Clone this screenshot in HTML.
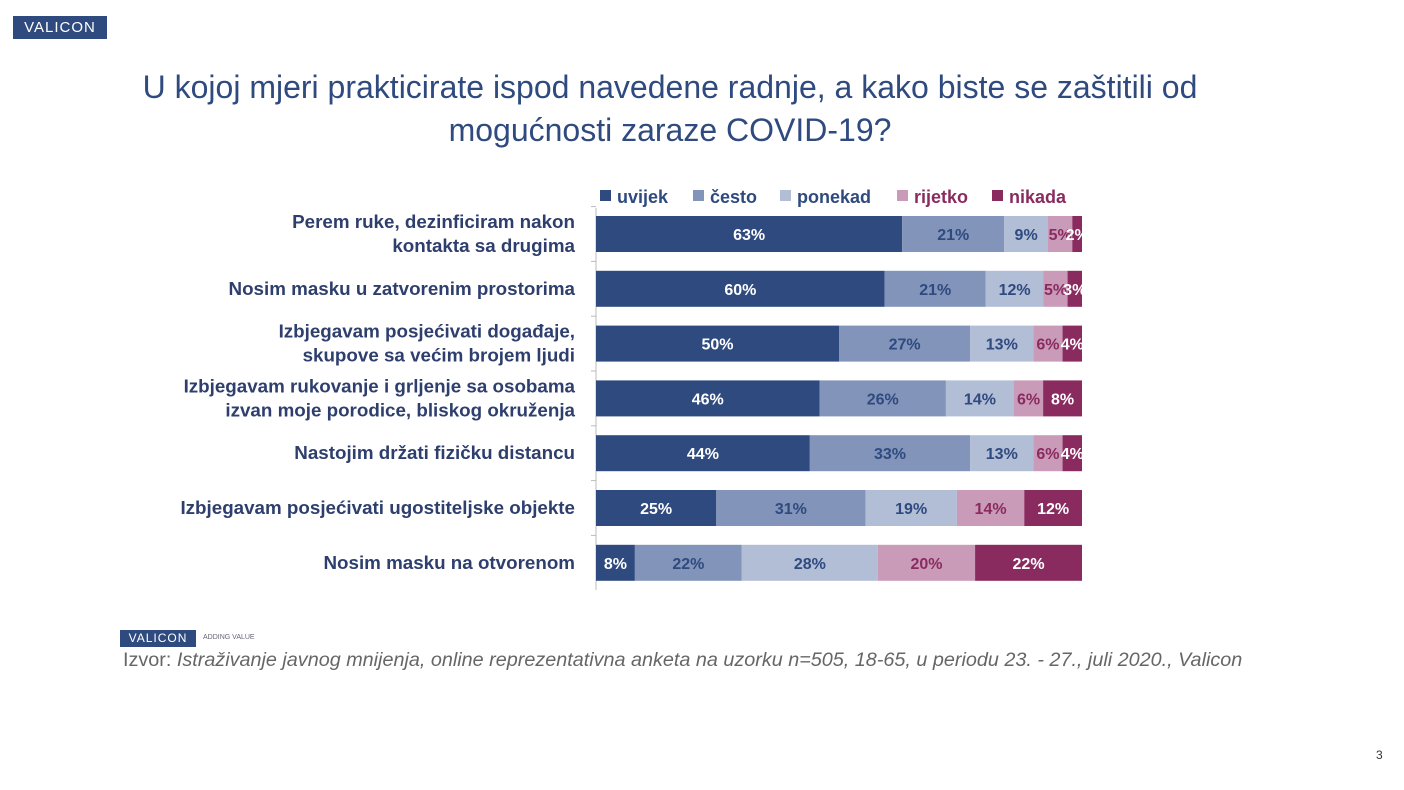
<!DOCTYPE html>
<html><head><meta charset="utf-8"><style>
body{margin:0;width:1404px;height:790px;background:#fff;font-family:"Liberation Sans",sans-serif;position:relative;overflow:hidden}
.logo{position:absolute;background:#2e4a7f;color:#fff;text-align:center;letter-spacing:1px}
</style></head><body>
<div class="logo" style="left:13px;top:16px;width:94px;height:23px;font-size:15px;line-height:23px">VALICON</div>
<div style="position:absolute;left:70px;top:66px;width:1200px;text-align:center;color:#2e4a7f;font-size:32px;line-height:43px;white-space:nowrap">U kojoj mjeri prakticirate ispod navedene radnje, a kako biste se zaštitili od<br>mogućnosti zaraze COVID-19?</div>
<svg id="chart" width="1404" height="620" style="position:absolute;left:0;top:0" font-family="Liberation Sans, sans-serif"></svg>
<div class="logo" style="left:120px;top:630px;width:76px;height:17px;font-size:12px;line-height:17px">VALICON</div>
<div style="position:absolute;left:203px;top:634px;font-size:7px;color:#667">ADDING VALUE</div>
<div style="position:absolute;left:123px;top:649px;font-size:19.8px;color:#666;white-space:nowrap">Izvor: <i>Istraživanje javnog mnijenja, online reprezentativna anketa na uzorku n=505, 18-65, u periodu 23. - 27., juli 2020., Valicon</i></div>
<div style="position:absolute;left:1376px;top:748px;font-size:12px;color:#333">3</div>
<script>
const categories=[["Perem ruke, dezinficiram nakon","kontakta sa drugima"],["Nosim masku u zatvorenim prostorima"],["Izbjegavam posjećivati događaje,","skupove sa većim brojem ljudi"],["Izbjegavam rukovanje i grljenje sa osobama","izvan moje porodice, bliskog okruženja"],["Nastojim držati fizičku distancu"],["Izbjegavam posjećivati ugostiteljske objekte"],["Nosim masku na otvorenom"]];
const seriesNames=["uvijek","često","ponekad","rijetko","nikada"];
const uvijek=[63,60,50,46,44,25,8];
const cesto=[21,21,27,26,33,31,22];
const ponekad=[9,12,13,14,13,19,28];
const rijetko=[5,5,6,6,6,14,20];
const nikada=[2,3,4,8,4,12,22];
const series=[uvijek,cesto,ponekad,rijetko,nikada];
const colors=["#2e4a7f","#8294b9","#b2bdd6","#c99bb9","#8a2b5f"];
const textColors=["#fff","#2e4a7f","#2e4a7f","#8a2b5f","#fff"];
const NS="http://www.w3.org/2000/svg";
const svg=document.getElementById('chart');
const x0=596,x1=1082,top0=216,step=54.8,bh=36;
const yRow=i=>top0+i*step;
function mk(t,a){const e=document.createElementNS(NS,t);for(const k in a)e.setAttribute(k,a[k]);svg.appendChild(e);return e;}
const ax=mk('line',{x1:x0,x2:x0,y1:208,y2:590,stroke:'#bbb'});


categories.forEach((c,i)=>{
  let acc=0;
  const total=series.reduce((s,a)=>s+a[i],0);
  const xs=v=>v/total*(x1-x0);
  series.forEach((s,j)=>{
    const v=s[i];const x=x0+xs(acc);const w=xs(v);
    const r=mk('rect',{x:x,y:yRow(i),width:w,height:bh,fill:colors[j]});
    
    
    const t=mk('text',{x:x+w/2,y:yRow(i)+bh/2+6,'text-anchor':'middle','font-size':16,'font-weight':'bold',fill:textColors[j]});
    t.textContent=v+'%';
    
    
    acc+=v;
  });
  const n=c.length;
  c.forEach((line,k)=>{
    const t=mk('text',{x:575,y:yRow(i)+bh/2+6+(k-(n-1)/2)*24,'text-anchor':'end','font-size':18.8,'font-weight':'bold',fill:'#2e3f6e'});
    t.textContent=line;
    
    
  });
  const tk=mk('line',{x1:x0-5,x2:x0,y1:yRow(i)-9.4,y2:yRow(i)-9.4,stroke:'#bbb'});
  
  
});
const legX=[600,693,780,897,992];
const legTC=["#2e4a7f","#2e4a7f","#2e4a7f","#8a2b5f","#8a2b5f"];
seriesNames.forEach((n,j)=>{
  const r=mk('rect',{x:legX[j],y:190,width:11,height:11,fill:colors[j]});
  
  
  const t=mk('text',{x:legX[j]+17,y:203,'font-size':18,'font-weight':'bold',fill:legTC[j]});
  t.textContent=n;
  
  
});
</script>
</body></html>
